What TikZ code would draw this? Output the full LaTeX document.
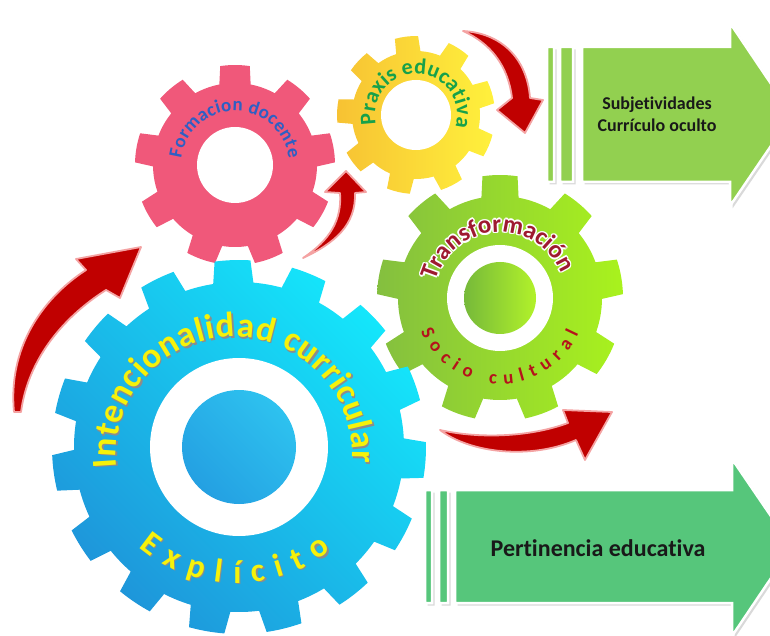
\documentclass[tikz,border=0pt]{standalone}
\usepackage{fontspec}
\setmainfont{Carlito}[Ligatures=NoCommon]
\usetikzlibrary{decorations.text}

\definecolor{azulgear}{HTML}{1E96DA}
\definecolor{cyangear}{HTML}{14E6FB}
\definecolor{azuldisc1}{HTML}{24A0E2}
\definecolor{azuldisc2}{HTML}{2EC2EF}
\definecolor{rosagear}{HTML}{F0587A}
\definecolor{amarillo1}{HTML}{F7C233}
\definecolor{amarillo2}{HTML}{FFF13C}
\definecolor{verde1}{HTML}{84BF3F}
\definecolor{verde2}{HTML}{A9F21D}
\definecolor{verdedisc1}{HTML}{76B93A}
\definecolor{verdedisc2}{HTML}{B2F22A}
\definecolor{flechared}{HTML}{C00000}
\definecolor{flechapink}{HTML}{F4A3A3}
\definecolor{verdeclaro}{HTML}{92D050}
\definecolor{verdemedio}{HTML}{56C67B}
\definecolor{txtamarillo}{HTML}{F6F20A}
\definecolor{txtrojo}{HTML}{9E1A30}
\definecolor{txtrojo2}{HTML}{B5121B}
\definecolor{txtazul}{HTML}{2E5FC4}
\definecolor{txtverde}{HTML}{17A14A}

% teeth, root r, tip r, first tooth angle, tip half-angle, base half-angle
\newcommand{\gearshape}[6]{({#4-#6}:#2)
  \foreach \k in {1,...,#1}{
    -- ({#4+(\k-1)*360/#1-#5}:#3)
    arc[start angle={#4+(\k-1)*360/#1-#5}, end angle={#4+(\k-1)*360/#1+#5}, radius=#3pt]
    -- ({#4+(\k-1)*360/#1+#6}:#2)
    arc[start angle={#4+(\k-1)*360/#1+#6}, end angle={#4+\k*360/#1-#6}, radius=#2pt]
  } -- cycle}

% [extra], center, start angle, end angle, radius, format, text
\newcommand{\arctexto}[7][]{%
  \path[shift={(#2)}, #1, decorate,
        decoration={text along path, text align={fit to path}, text={|#6|#7}}]
    (#3:#5) arc[start angle=#3, end angle=#4, radius=#5pt];}

\begin{document}
\begin{tikzpicture}[x=1pt, y=1pt,
    flecha/.style={fill=flechared, draw=flechapink, line width=1.8pt, line join=round},
    caja/.style={draw=white, line width=2.5pt, line join=miter},
    sombra/.style={fill=black!15, draw=none},
    etiqueta/.style={font=\bfseries\fontsize{18}{22}\selectfont, text=black!90, align=center},
]
\useasboundingbox (0,0) rectangle (770,635);
\clip (0,0) rectangle (770,635);

\coordinate (azul) at (239,188);
\coordinate (rosa) at (235,470);
\coordinate (amarillo) at (416,520);
\coordinate (verde) at (500,337);

% === gears ===
\fill[rosagear, shift={(rosa)}] \gearshape{9}{82}{100}{90}{8.5}{11};
\fill[white] (rosa) circle[radius=38pt];

\shade[left color=amarillo1, right color=amarillo2, shift={(amarillo)}] \gearshape{9}{64}{79}{97}{8.5}{11};
\fill[white] (amarillo) circle[radius=35pt];

\shade[left color=verde1, right color=verde2, shift={(verde)}] \gearshape{9}{102}{123}{90}{8.2}{10.5};
\fill[white] (verde) circle[radius=53pt];
\shade[left color=verdedisc1, right color=verdedisc2] (verde) circle[radius=36pt];

\shade[left color=azulgear, right color=cyangear, shading angle=135, shift={(azul)}] \gearshape{15}{165}{187}{92}{5.5}{7};
\fill[white] (azul) circle[radius=89pt];
\shade[left color=azuldisc1, right color=azuldisc2, shading angle=135] (azul) circle[radius=57pt];

% === gear labels ===
\arctexto[shift={(1.5,-1.5)}]{234,180}{186}{-4}{118}{\fontsize{35}{35}\selectfont\bfseries\color{black!45}}{Intencionalidad curricular}
\arctexto{234,180}{186}{-4}{118}{\fontsize{35}{35}\selectfont\bfseries\color{txtamarillo}}{Intencionalidad curricular}
\arctexto[shift={(1.2,-1.2)}]{237,205}{230}{308}{153}{\fontsize{33}{33}\selectfont\bfseries\color{black!45}}{Explícito}
\arctexto{237,205}{230}{308}{153}{\fontsize{33}{33}\selectfont\bfseries\color{txtamarillo}}{Explícito}

\foreach \hx/\hy in {1.6/0, -1.6/0, 0/1.6, 0/-1.6, 1.1/1.1, -1.1/1.1, 1.1/-1.1, -1.1/-1.1}
  {\arctexto[shift={(\hx,\hy)}]{verde}{165}{22}{66}{\fontsize{25}{25}\selectfont\bfseries\color{white}}{Transformación}}
\arctexto{verde}{165}{22}{66}{\fontsize{25}{25}\selectfont\bfseries\color{txtrojo}}{Transformación}
\arctexto{verde}{203}{336}{86}{\fontsize{19}{19}\selectfont\bfseries\color{txtrojo2}}{Socio cultural}

\arctexto{rosa}{173}{7}{54}{\fontsize{19}{19}\selectfont\bfseries\color{txtazul}}{Formacion docente}
\arctexto{amarillo}{193}{-17}{41}{\fontsize{22}{22}\selectfont\bfseries\color{txtverde}}{Praxis educativa}

% === red arrows ===
\draw[flecha] (14,223) .. controls (8,285) and (40,335) .. (86,365) -- (76,376) -- (141,388)
  -- (120,337) -- (106,345) .. controls (62,317) and (28,275) .. (21,223) -- cycle;
\draw[flecha] (303,377) .. controls (335,392) and (356,410) .. (355,442) -- (366,443) -- (346,464)
  -- (325,443) -- (340,442) .. controls (342,415) and (330,395) .. (303,377) -- cycle;
\draw[flecha] (463,604) .. controls (500,602) and (527,578) .. (530,537) -- (543,535) -- (525,502)
  -- (497,525) -- (512,537) .. controls (508,570) and (490,592) .. (463,604) -- cycle;
\draw[flecha] (440,205) .. controls (470,182) and (530,175) .. (576,195) -- (585,175) -- (612,223)
  -- (563,225) -- (568,212) .. controls (530,198) and (480,196) .. (440,205) -- cycle;

% === green boxes ===
\fill[sombra, shift={(2.5,-2.5)}] (582,453) -- (730,453) -- (730,429) -- (792,520) -- (730,612)
  -- (730,588) -- (582,588) -- cycle (560,453) rectangle (573,588) (547,453) rectangle (554,588);
\path[caja, fill=verdeclaro] (582,453) -- (730,453) -- (730,429) -- (792,520) -- (730,612)
  -- (730,588) -- (582,588) -- cycle (560,453) rectangle (573,588) (547,453) rectangle (554,588);
\node[etiqueta] (subj) at (657,521) {Subjetividades\\Currículo oculto};

\fill[sombra, shift={(2.5,-2.5)}] (455,32) -- (732,32) -- (732,-1) -- (792,88) -- (732,176)
  -- (732,145) -- (455,145) -- cycle (439,32) rectangle (448,145) (425,32) rectangle (432,145);
\path[caja, fill=verdemedio] (455,32) -- (732,32) -- (732,-1) -- (792,88) -- (732,176)
  -- (732,145) -- (455,145) -- cycle (439,32) rectangle (448,145) (425,32) rectangle (432,145);
\node[etiqueta, font=\bfseries\fontsize{24}{28}\selectfont] (pert) at (598,87) {Pertinencia educativa};

\end{tikzpicture}
\end{document}
